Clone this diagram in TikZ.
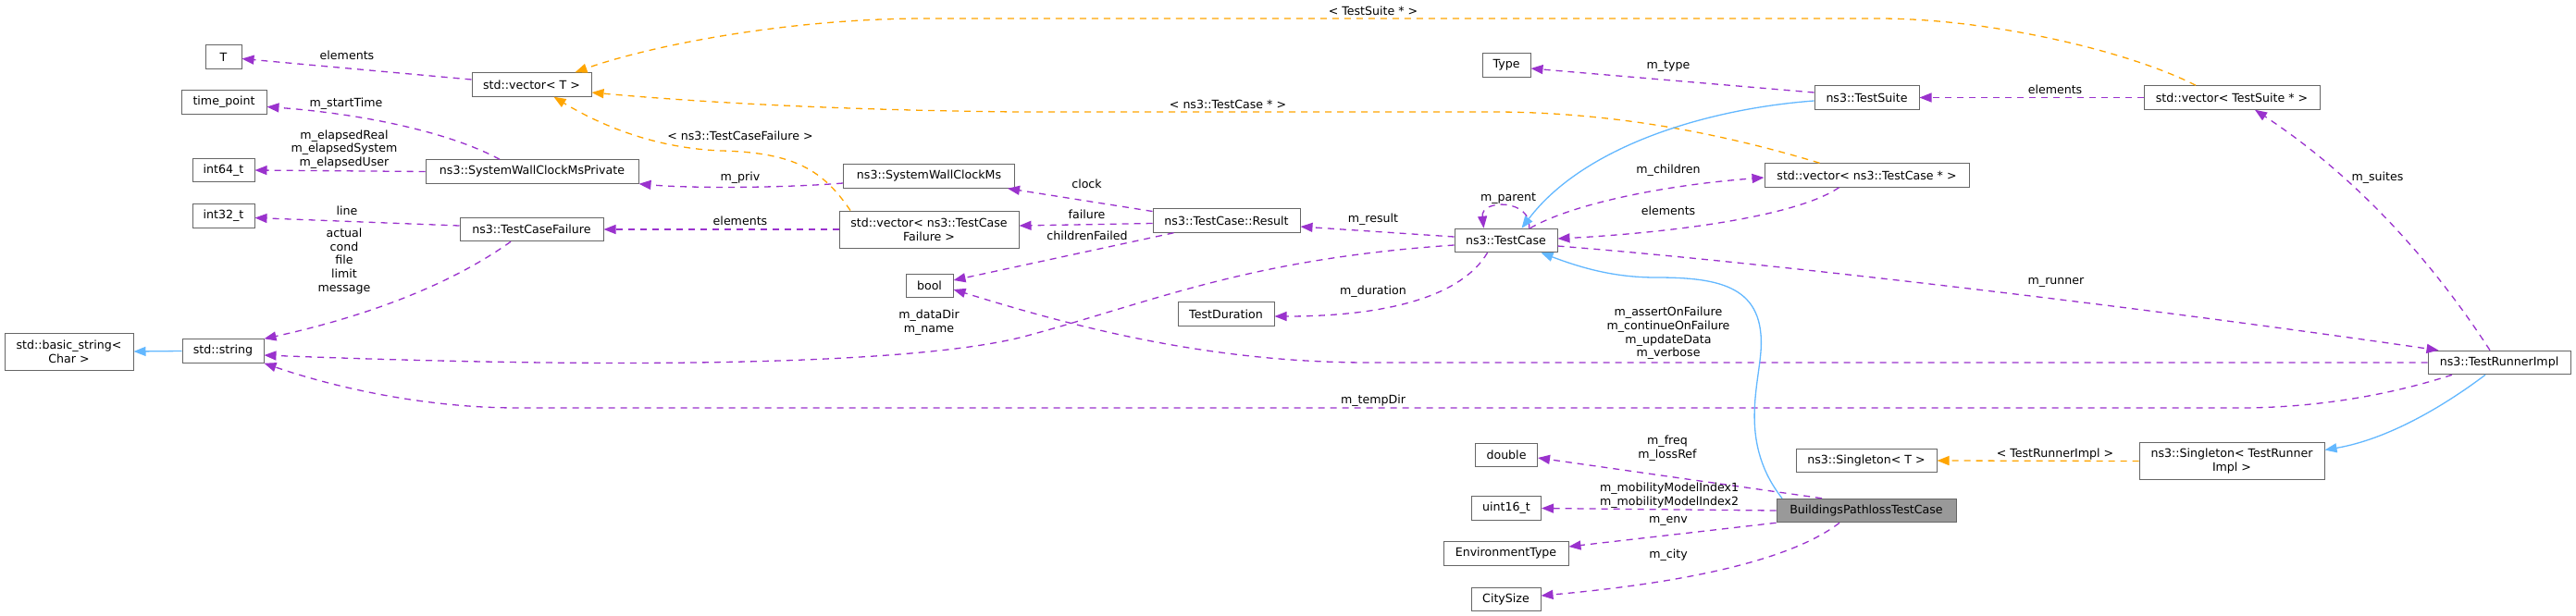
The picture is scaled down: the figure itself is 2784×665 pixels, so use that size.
\documentclass[tikz,border=0pt]{standalone}
\usepackage{fontspec}
\setmainfont{DejaVu Sans}
\usetikzlibrary{arrows.meta}
\definecolor{usecol}{HTML}{9A32CD}
\definecolor{tplcol}{HTML}{FFA500}
\definecolor{inhcol}{HTML}{63B8FF}
\definecolor{boxline}{HTML}{666666}
\definecolor{mainfill}{HTML}{999999}
\begin{document}
\begin{tikzpicture}[x=1pt,y=-1pt,
  every node/.style={font=\fontsize{12.6}{14.6}\selectfont},
  box/.style={draw=boxline, fill=white, line width=1pt, minimum height=25.5pt, inner sep=0pt, align=center},
  tall/.style={minimum height=40pt},
  lbl/.style={inner sep=0pt, align=center, text=black},
  use/.style={draw=usecol, dash pattern=on 7pt off 6pt, line width=1.3pt, -{Triangle[length=13pt,width=10pt]}},
  tpl/.style={draw=tplcol, dash pattern=on 7pt off 6pt, line width=1.3pt, -{Triangle[length=13pt,width=10pt]}},
  inh/.style={draw=inhcol, line width=1.3pt, -{Triangle[length=13pt,width=10pt]}}]
\fill[white] (0,0) rectangle (2784,665);
\path[use as bounding box] (0,0) rectangle (2784,665);

% nodes
\node[box, minimum width=39pt] (T) at (241.5,61.5) {T};
\node[box, minimum width=129pt] (vecT) at (574.5,91.5) {std::vector< T >};
\node[box, minimum width=92pt] (timepoint) at (242,110.5) {time\_point};
\node[box, minimum width=67pt] (int64) at (241.5,184) {int64\_t};
\node[box, minimum width=230pt] (swcmp) at (575,185.5) {ns3::SystemWallClockMsPrivate};
\node[box, minimum width=67pt] (int32) at (241.5,233.5) {int32\_t};
\node[box, minimum width=155pt] (tcf) at (574.5,248) {ns3::TestCaseFailure};
\node[box, tall, minimum width=139pt] (basicstr) at (74.5,380) {std::basic\_string<\\Char >};
\node[box, minimum width=88pt] (str) at (241,379.5) {std::string};
\node[box, minimum width=185pt] (swcm) at (1004,190.5) {ns3::SystemWallClockMs};
\node[box, tall, minimum width=194pt] (vecTCF) at (1004,248) {std::vector< ns3::TestCase\\Failure >};
\node[box, minimum width=159pt] (result) at (1325.5,238.5) {ns3::TestCase::Result};
\node[box, minimum width=51pt] (bool) at (1004.5,309) {bool};
\node[box, minimum width=104pt] (tdur) at (1325,339.5) {TestDuration};
\node[box, minimum width=111pt] (tc) at (1627.5,260) {ns3::TestCase};
\node[box, minimum width=52pt] (type) at (1628,70.5) {Type};
\node[box, minimum width=113pt] (tsuite) at (2017.5,105.5) {ns3::TestSuite};
\node[box, minimum width=190pt] (vecTS) at (2412,105.5) {std::vector< TestSuite * >};
\node[box, minimum width=221pt] (vecTC) at (2017.5,189.5) {std::vector< ns3::TestCase * >};
\node[box, minimum width=154pt] (tri) at (2701,392) {ns3::TestRunnerImpl};
\node[box, minimum width=152pt] (singT) at (2017,498) {ns3::Singleton< T >};
\node[box, tall, minimum width=200pt] (singTRI) at (2412,498.5) {ns3::Singleton< TestRunner\\Impl >};
\node[box, fill=mainfill, minimum width=194pt] (bptc) at (2017,552) {BuildingsPathlossTestCase};
\node[box, minimum width=67pt] (dbl) at (1628,492) {double};
\node[box, minimum width=75pt] (u16) at (1628,549.5) {uint16\_t};
\node[box, minimum width=135pt] (envt) at (1627.5,598.5) {EnvironmentType};
\node[box, minimum width=75pt] (city) at (1627.5,648) {CitySize};

% usage edges
\draw[use] ([yshift=5.5pt]vecT.west) -- ([yshift=-2pt]T.east);
\draw[use] ([xshift=-35pt]swcmp.north) .. controls (480,140) and (380,122) .. ([yshift=-5pt]timepoint.east);
\draw[use] (swcmp.west) -- (int64.east);
\draw[use] ([yshift=4pt]tcf.west) -- ([yshift=-2pt]int32.east);
\draw[use] ([xshift=-22.5pt]tcf.south) .. controls (470,320) and (360,350) .. (str.north east);
\draw[use] ([yshift=-7.5pt]swcm.west) .. controls (850,203) and (750,204) .. (swcmp.south east);
\draw[use] (vecTCF.west) -- (tcf.east);
\draw[use] ([yshift=10pt]result.west) -- ([xshift=-8pt]swcm.south east);
\draw[use] ([yshift=-3pt]result.west) -- ([yshift=4pt]vecTCF.east);
\draw[use] ([xshift=-57pt]result.south) -- ([yshift=6pt]bool.east);
\draw[use] ([yshift=4pt]tc.west) -- ([yshift=-6.5pt]result.east);
\draw[use] ([xshift=25pt]tc.north) .. controls (1656,215) and (1600,215) .. ([xshift=-24pt]tc.north);
\draw[use] ([xshift=-20pt]tc.south) .. controls (1580,320) and (1500,342) .. ([yshift=-2.5pt]tdur.east);
\draw[use] ([yshift=-5pt]tc.west) .. controls (1350,280) and (1250,325) .. (1110,363) .. controls (1000,393) and (700,400) .. ([yshift=-4.5pt]str.east);
\draw[use] (tri.west) -- (1480,392) .. controls (1300,392) and (1150,350) .. ([yshift=-4pt]bool.east);
\draw[use] ([xshift=-51pt]tri.south) .. controls (2580,428) and (2500,441) .. (2420,441) -- (560,441) .. controls (450,441) and (350,415) .. (str.south east);
\draw[use] ([yshift=-6pt]tc.east) .. controls (1900,283) and (2300,330) .. ([xshift=12pt]tri.north west);
\draw[use] ([yshift=5.5pt]tsuite.west) -- ([yshift=-3.5pt]type.east);
\draw[use] (vecTS.west) -- (tsuite.east);
\draw[use] ([xshift=26pt]tc.north) .. controls (1700,220) and (1800,200) .. ([yshift=-2.5pt]vecTC.west);
\draw[use] ([xshift=-30pt]vecTC.south) .. controls (1940,235) and (1800,252) .. ([yshift=2pt]tc.east);
\draw[use] ([xshift=-10pt]tri.north) .. controls (2640,300) and (2560,200) .. ([xshift=25pt]vecTS.south);
\draw[use] ([xshift=-48pt]bptc.north) -- ([yshift=-3pt]dbl.east);
\draw[use] (bptc.west) -- (u16.east);
\draw[use] (bptc.south west) -- ([yshift=7.5pt]envt.east);
\draw[use] ([xshift=-29pt]bptc.south) .. controls (1930,610) and (1800,632) .. ([yshift=4pt]city.east);

% template edges
\draw[tpl] ([xshift=-39pt]vecTS.north) .. controls (2300,55) and (2150,20) .. (2030,20) -- (1000,20) .. controls (850,20) and (700,50) .. ([xshift=-18pt]vecT.north east);
\draw[tpl] ([xshift=-51pt]vecTC.north) .. controls (1880,150) and (1760,122) .. (1620,121) -- (1100,121) .. controls (900,119) and (750,110) .. ([yshift=-8.5pt]vecT.east);
\draw[tpl] ([xshift=-85pt]vecTCF.north) .. controls (890,185) and (860,165) .. (780,163) .. controls (700,160) and (640,130) .. ([xshift=24pt]vecT.south);
\draw[tpl] (singTRI.west) -- (singT.east);

% inheritance edges
\draw[inh] (str.west) -- (basicstr.east);
\draw[inh] ([yshift=-3.5pt]tsuite.west) .. controls (1840,118) and (1710,160) .. ([xshift=17pt]tc.north);
\draw[inh] ([xshift=-91pt]bptc.north) .. controls (1880,480) and (1900,420) .. (1903,380) .. controls (1908,310) and (1860,300) .. (1790,300) .. controls (1745,300) and (1710,290) .. ([xshift=38pt]tc.south);
\draw[inh] ([xshift=-15pt]tri.south) .. controls (2640,440) and (2580,475) .. ([yshift=12pt]singTRI.east);

% labels
\node[lbl] (lT) at (375,60) {elements};
\node[lbl] (lstart) at (374,112) {m\_startTime};
\node[lbl] (lelapsed) at (372,161.5) {m\_elapsedReal\\m\_elapsedSystem\\m\_elapsedUser};
\node[lbl] (lline) at (375,228) {line};
\node[lbl] (lstrs) at (372,282.5) {actual\\cond\\file\\limit\\message};
\node[lbl] (lpriv) at (800,192) {m\_priv};
\node[lbl] (ltcfel) at (800,239) {elements};
\node[lbl] (ltcfT) at (800,147) {< ns3::TestCaseFailure >};
\node[lbl] (lclock) at (1174.5,199) {clock};
\node[lbl] (lfail) at (1174.5,232) {failure};
\node[lbl] (lchildf) at (1175,255) {childrenFailed};
\node[lbl] (lres) at (1484,237) {m\_result};
\node[lbl] (lpar) at (1630,215) {m\_parent};
\node[lbl] (ldur) at (1484,315) {m\_duration};
\node[lbl] (ldata) at (1004,348.5) {m\_dataDir\\m\_name};
\node[lbl] (lassert) at (1803,360.5) {m\_assertOnFailure\\m\_continueOnFailure\\m\_updateData\\m\_verbose};
\node[lbl] (ltemp) at (1484,433) {m\_tempDir};
\node[lbl] (lrun) at (2222,305) {m\_runner};
\node[lbl] (ltype) at (1803,72) {m\_type};
\node[lbl] (ltsel) at (2221,97) {elements};
\node[lbl] (lchildren) at (1803,184) {m\_children};
\node[lbl] (ltcel) at (1803,228) {elements};
\node[lbl] (lsuites) at (2569.5,192) {m\_suites};
\node[lbl] (lfreq) at (1802,484.5) {m\_freq\\m\_lossRef};
\node[lbl] (lmob) at (1804,535.5) {m\_mobilityModelIndex1\\m\_mobilityModelIndex2};
\node[lbl] (lenv) at (1803,563) {m\_env};
\node[lbl] (lcity) at (1803,600) {m\_city};
\node[lbl] (lts) at (1484,12) {< TestSuite * >};
\node[lbl] (ltc) at (1327,113) {< ns3::TestCase * >};
\node[lbl] (ltri) at (2221,491) {< TestRunnerImpl >};
\end{tikzpicture}
\end{document}
